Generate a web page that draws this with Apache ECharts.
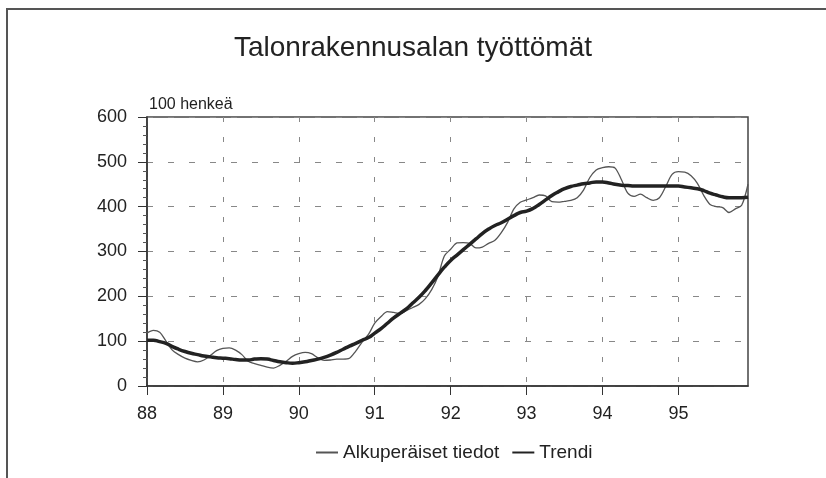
<!DOCTYPE html>
<html>
<head>
<meta charset="utf-8">
<script src="https://cdn.jsdelivr.net/npm/echarts@6/dist/echarts.min.js"></script>
<style>
  html, body { margin: 0; padding: 0; background: #fff; }
  #main { width: 826px; height: 478px; }
</style>
</head>
<body>
<div id="main"></div>
<script>
// kuukausittaiset tiedot 1/88 - 12/95 (100 henkeä)
var startYear = 88;
var yearTicks = [88, 89, 90, 91, 92, 93, 94, 95];

var alkuperaiset = [
  118, 124, 120, 100, 80, 70, 62, 57, 54, 58, 68, 79,
  84, 85, 80, 70, 55, 50, 46, 42, 40, 46, 55, 66,
  72, 75, 72, 63, 57, 58, 60, 60, 62, 78, 98, 115,
  140, 155, 166, 164, 162, 168, 175, 182, 195, 215, 245, 290,
  305, 319, 320, 318, 308, 310, 318, 325, 342, 365, 395, 410,
  415, 420, 426, 424, 411, 410, 412, 414, 420, 437, 465, 482,
  487, 489, 486, 460, 430, 423, 428, 420, 414, 420, 445, 472,
  478, 477, 469, 452, 425, 405, 400, 398, 387, 395, 403, 450
];

var trendi = [
  102, 102, 99, 95, 88, 82, 77, 73, 70, 67, 65, 63,
  62, 61, 59, 58, 58, 60, 61, 60, 57, 54, 52, 51,
  52, 54, 57, 60, 64, 69, 75, 82, 89, 95, 102, 108,
  118, 128, 140, 152, 162, 172, 185, 198, 213, 230, 248, 265,
  280, 292, 304, 316, 328, 340, 350, 358, 364, 372, 380, 387,
  390, 396, 405, 415, 425, 433, 440, 445, 448, 451, 453, 455,
  455, 453, 450, 448, 447, 446, 446, 446, 446, 446, 446, 446,
  446, 444, 442, 440, 436, 430, 426, 422, 420, 420, 420, 421
];

function toPoints(arr) {
  var out = [];
  for (var i = 0; i < arr.length; i++) {
    out.push([startYear + i / 12, arr[i]]);
  }
  return out;
}

var myChart = echarts.init(document.getElementById('main'));
var fontName = 'Liberation Sans';

var option = {
  animation: false,
  backgroundColor: '#fff',
  textStyle: { fontFamily: fontName },
  title: {
    text: 'Talonrakennusalan työttömät',
    left: 'center',
    top: 29,
    textStyle: { fontFamily: fontName, fontSize: 28, fontWeight: 'normal', color: '#222' }
  },
  legend: {
    bottom: 11,
    left: 310,
    itemWidth: 22,
    itemGap: 12,
    itemStyle: { opacity: 0 },
    textStyle: { fontFamily: fontName, fontSize: 19, color: '#222' },
    data: ['Alkuperäiset tiedot', 'Trendi']
  },
  grid: {
    left: 147, top: 117, right: 78, bottom: 92,
    show: true, borderColor: '#444', borderWidth: 1.5,
    backgroundColor: 'transparent'
  },
  graphic: [{
    type: 'polyline',
    shape: { points: [[7, 478], [7, 9], [826, 9]] },
    style: { stroke: '#555', lineWidth: 2, fill: null }
  }],
  xAxis: {
    type: 'value',
    min: startYear,
    max: startYear + (alkuperaiset.length - 1) / 12,
    interval: 1,
    axisLine: { show: true, lineStyle: { color: '#333', width: 1.5 } },
    axisTick: { show: true, length: 9, lineStyle: { color: '#333' }, customValues: yearTicks },
    axisLabel: {
      customValues: yearTicks,
      fontFamily: fontName, fontSize: 18, color: '#222', margin: 19,
      formatter: function (v) { return Number.isInteger(v) ? String(v) : ''; }
    },
    splitLine: { show: true, lineStyle: { color: '#888', type: [5, 15], width: 1 } }
  },
  yAxis: {
    type: 'value',
    min: 0, max: 600, interval: 100,
    name: '100 henkeä',
    nameLocation: 'end',
    nameGap: 4,
    nameTextStyle: { fontFamily: fontName, fontSize: 16, color: '#222', align: 'left', padding: [0, 0, 0, 2] },
    axisLine: { show: true, lineStyle: { color: '#333', width: 1.5 } },
    axisTick: { show: true, length: 9, lineStyle: { color: '#333' } },
    minorTick: { show: true, splitNumber: 5, length: 4, lineStyle: { color: '#555' } },
    axisLabel: { fontFamily: fontName, fontSize: 18, color: '#222', margin: 20 },
    splitLine: { show: true, lineStyle: { color: '#888', type: [6, 15], width: 1 } }
  },
  series: [
    {
      name: 'Alkuperäiset tiedot',
      type: 'line',
      symbol: 'none',
      smooth: 0.3,
      data: toPoints(alkuperaiset),
      lineStyle: { color: '#555', width: 1.3 },
      itemStyle: { color: '#555' },
      z: 2
    },
    {
      name: 'Trendi',
      type: 'line',
      symbol: 'none',
      smooth: true,
      data: toPoints(trendi),
      lineStyle: { color: '#222', width: 3.5 },
      itemStyle: { color: '#222' },
      z: 3
    }
  ]
};

myChart.setOption(option);
</script>
</body>
</html>
